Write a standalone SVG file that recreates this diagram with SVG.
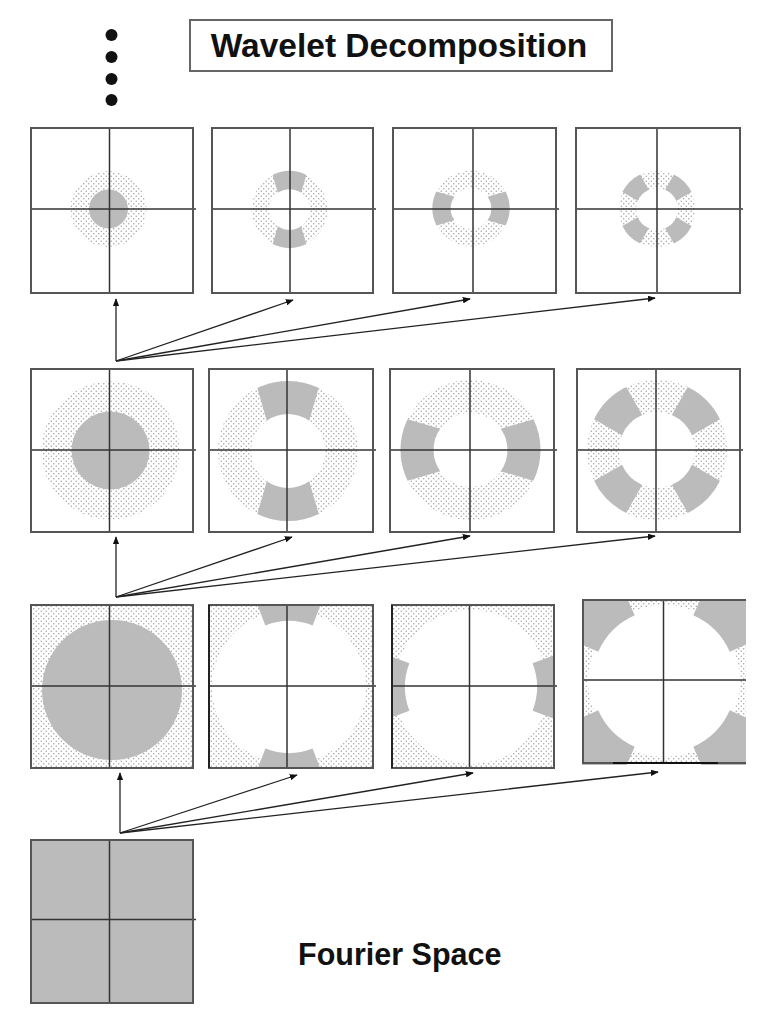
<svg xmlns="http://www.w3.org/2000/svg" xmlns:xlink="http://www.w3.org/1999/xlink" width="760" height="1020" viewBox="0 0 760 1020">
<style>
.frame{fill:none;stroke:#555;stroke-width:2}
.axis{stroke:#333;stroke-width:1.5}
.g{fill:#bbb}
.dot{fill:url(#dots)}
.w{fill:#fff}
.conn{stroke:#222;stroke-width:1.3;fill:none;marker-end:url(#ah)}
.t{font-family:"Liberation Sans",Arial,sans-serif;font-weight:bold;fill:#111}
</style>
<defs>
<pattern id="dots" width="5" height="5" patternUnits="userSpaceOnUse">
<rect width="5" height="5" fill="#fff"/>
<circle cx="1.25" cy="1.25" r="0.7" fill="#999"/>
<circle cx="3.75" cy="3.75" r="0.7" fill="#999"/>
</pattern>
<marker id="ah" viewBox="0 0 10 8" refX="9" refY="4" markerWidth="8" markerHeight="6.4" markerUnits="userSpaceOnUse" orient="auto">
<path d="M0,0 L10,4 L0,8 Z" fill="#111"/>
</marker>
<path id="wa" d="M62.92,-30.69 A70,70 0 0 1 62.92,30.69 L30.31,21.22 A37,37 0 0 0 30.31,-21.22 Z"/>
<path id="wd" d="M66.19,-22.79 A70,70 0 0 1 66.19,22.79 L35.23,14.24 A38,38 0 0 0 35.23,-14.24 Z"/>
<path id="wa3" d="M121.37,-46.59 A130,130 0 0 1 121.37,46.59 L61.62,23.65 A66,66 0 0 0 61.62,-23.65 Z"/>
<path id="wd3" d="M121.37,-46.59 A130,130 0 0 1 121.37,46.59 L67.22,25.80 A72,72 0 0 0 67.22,-25.80 Z"/>
<clipPath id="c32"><rect x="209" y="605" width="164" height="163"/></clipPath>
<clipPath id="c33"><rect x="392" y="605" width="162" height="163"/></clipPath>
<clipPath id="c34"><rect x="582" y="599" width="164" height="166"/></clipPath>
</defs>
<rect width="760" height="1020" fill="#fff"/>

<g id="dots-more">
<circle cx="111.5" cy="35" r="6" fill="#111"/>
<circle cx="111.5" cy="57" r="6" fill="#111"/>
<circle cx="111.5" cy="79" r="6" fill="#111"/>
<circle cx="111.5" cy="100" r="6" fill="#111"/>
</g>

<g id="title">
<rect x="190" y="20" width="422" height="51" fill="#fff" stroke="#666" stroke-width="2"/>
<text class="t" x="399" y="57" font-size="33.5" text-anchor="middle">Wavelet Decomposition</text>
</g>

<!-- Row 1 -->
<g id="b11">
<rect x="31" y="128" width="162" height="165" fill="#fff"/>
<circle cx="108.5" cy="209" r="38" class="dot"/>
<circle cx="108.5" cy="209" r="19.5" class="g"/>
<line class="axis" x1="109.5" y1="128" x2="109.5" y2="293"/>
<line class="axis" x1="31" y1="209" x2="196" y2="209"/>
<rect class="frame" x="31" y="128" width="162" height="165"/>
</g>
<g id="b12">
<rect x="212" y="128" width="161" height="165" fill="#fff"/>
<circle cx="289.5" cy="209.5" r="38" class="dot"/>
<circle cx="289.5" cy="209.5" r="20.4" class="w"/>
<use xlink:href="#wa" class="g" transform="translate(289.5,209.5) scale(0.55) rotate(-90)"/>
<use xlink:href="#wa" class="g" transform="translate(289.5,209.5) scale(0.55) rotate(90)"/>
<line class="axis" x1="290" y1="128" x2="290" y2="293"/>
<line class="axis" x1="212" y1="209" x2="376" y2="209"/>
<rect class="frame" x="212" y="128" width="161" height="165"/>
</g>
<g id="b13">
<rect x="393" y="128" width="163" height="165" fill="#fff"/>
<circle cx="471" cy="208.5" r="38" class="dot"/>
<circle cx="471" cy="208.5" r="20.4" class="w"/>
<use xlink:href="#wa" class="g" transform="translate(471,208.5) scale(0.55) rotate(0)"/>
<use xlink:href="#wa" class="g" transform="translate(471,208.5) scale(0.55) rotate(180)"/>
<line class="axis" x1="473" y1="128" x2="473" y2="293"/>
<line class="axis" x1="393" y1="209" x2="559" y2="209"/>
<rect class="frame" x="393" y="128" width="163" height="165"/>
</g>
<g id="b14">
<rect x="576" y="128" width="164" height="165" fill="#fff"/>
<circle cx="657" cy="209" r="38" class="dot"/>
<circle cx="657" cy="209" r="20.9" class="w"/>
<use xlink:href="#wd" class="g" transform="translate(657,209) scale(0.55) rotate(45)"/>
<use xlink:href="#wd" class="g" transform="translate(657,209) scale(0.55) rotate(135)"/>
<use xlink:href="#wd" class="g" transform="translate(657,209) scale(0.55) rotate(225)"/>
<use xlink:href="#wd" class="g" transform="translate(657,209) scale(0.55) rotate(315)"/>
<line class="axis" x1="657" y1="128" x2="657" y2="293"/>
<line class="axis" x1="576" y1="209" x2="743" y2="209"/>
<rect class="frame" x="576" y="128" width="164" height="165"/>
</g>

<!-- Row 2 -->
<g id="b21">
<rect x="31" y="369" width="162" height="163" fill="#fff"/>
<circle cx="110.5" cy="450.5" r="69" class="dot"/>
<circle cx="110.5" cy="450.5" r="39" class="g"/>
<line class="axis" x1="109.5" y1="369" x2="109.5" y2="532"/>
<line class="axis" x1="31" y1="450" x2="196" y2="450"/>
<rect class="frame" x="31" y="369" width="162" height="163"/>
</g>
<g id="b22">
<rect x="209" y="369" width="164" height="163" fill="#fff"/>
<circle cx="288" cy="451" r="70" class="dot"/>
<circle cx="288" cy="451" r="37" class="w"/>
<use xlink:href="#wa" class="g" transform="translate(288,451) rotate(-90)"/>
<use xlink:href="#wa" class="g" transform="translate(288,451) rotate(90)"/>
<line class="axis" x1="287" y1="369" x2="287" y2="532"/>
<line class="axis" x1="209" y1="450" x2="376" y2="450"/>
<rect class="frame" x="209" y="369" width="164" height="163"/>
</g>
<g id="b23">
<rect x="390" y="369" width="164" height="163" fill="#fff"/>
<circle cx="470.5" cy="450" r="70" class="dot"/>
<circle cx="470.5" cy="450" r="37" class="w"/>
<use xlink:href="#wa" class="g" transform="translate(470.5,450) rotate(0)"/>
<use xlink:href="#wa" class="g" transform="translate(470.5,450) rotate(180)"/>
<line class="axis" x1="470" y1="369" x2="470" y2="532"/>
<line class="axis" x1="390" y1="450" x2="557" y2="450"/>
<rect class="frame" x="390" y="369" width="164" height="163"/>
</g>
<g id="b24">
<rect x="577" y="369" width="163" height="163" fill="#fff"/>
<circle cx="657" cy="450" r="70" class="dot"/>
<circle cx="657" cy="450" r="38" class="w"/>
<use xlink:href="#wd" class="g" transform="translate(657,450) rotate(45)"/>
<use xlink:href="#wd" class="g" transform="translate(657,450) rotate(135)"/>
<use xlink:href="#wd" class="g" transform="translate(657,450) rotate(225)"/>
<use xlink:href="#wd" class="g" transform="translate(657,450) rotate(315)"/>
<line class="axis" x1="656" y1="369" x2="656" y2="532"/>
<line class="axis" x1="577" y1="450" x2="743" y2="450"/>
<rect class="frame" x="577" y="369" width="163" height="163"/>
</g>

<!-- Row 3 -->
<g id="b31">
<rect x="31" y="605" width="162" height="163" class="dot"/>
<circle cx="112" cy="690" r="70" class="g"/>
<line class="axis" x1="109.5" y1="605" x2="109.5" y2="768"/>
<line class="axis" x1="31" y1="686" x2="196" y2="686"/>
<rect class="frame" x="31" y="605" width="162" height="163"/>
</g>
<g id="b32">
<g clip-path="url(#c32)">
<rect x="209" y="605" width="164" height="163" class="dot"/>
<circle cx="289" cy="687" r="77" class="w"/>
<use xlink:href="#wa3" class="g" transform="translate(289,687) rotate(-90)"/>
<use xlink:href="#wa3" class="g" transform="translate(289,687) rotate(90)"/>
</g>
<line class="axis" x1="287" y1="605" x2="287" y2="768"/>
<line class="axis" x1="209" y1="686" x2="376" y2="686"/>
<rect class="frame" x="209" y="605" width="164" height="163"/>
<line x1="209" y1="605" x2="209" y2="768" stroke="#222" stroke-width="2"/>
</g>
<g id="b33">
<g clip-path="url(#c33)">
<rect x="392" y="605" width="162" height="163" class="dot"/>
<circle cx="471" cy="687" r="77" class="w"/>
<use xlink:href="#wa3" class="g" transform="translate(471,687) rotate(0)"/>
<use xlink:href="#wa3" class="g" transform="translate(471,687) rotate(180)"/>
</g>
<line class="axis" x1="469.5" y1="605" x2="469.5" y2="768"/>
<line class="axis" x1="392" y1="686" x2="557" y2="686"/>
<rect class="frame" x="392" y="605" width="162" height="163"/>
<line x1="392" y1="605" x2="392" y2="768" stroke="#222" stroke-width="2"/>
</g>
<g id="b34">
<g clip-path="url(#c34)">
<rect x="583" y="600" width="163" height="163" class="dot"/>
<circle cx="664" cy="681" r="76" class="w"/>
<use xlink:href="#wd3" class="g" transform="translate(664,681) rotate(45)"/>
<use xlink:href="#wd3" class="g" transform="translate(664,681) rotate(135)"/>
<use xlink:href="#wd3" class="g" transform="translate(664,681) rotate(225)"/>
<use xlink:href="#wd3" class="g" transform="translate(664,681) rotate(315)"/>
<line class="axis" x1="663.5" y1="600" x2="663.5" y2="763"/>
<line class="axis" x1="583" y1="680" x2="746" y2="680"/>
<path class="frame" d="M746,600 H583 V763 H746"/>
</g>
<line x1="613" y1="763" x2="718" y2="763" stroke="#111" stroke-width="1.8"/>
</g>

<!-- Row 4 -->
<g id="b41">
<rect x="31" y="840" width="162" height="163" class="g"/>
<line class="axis" x1="109.5" y1="840" x2="109.5" y2="1003"/>
<line class="axis" x1="31" y1="919.5" x2="196" y2="919.5"/>
<rect class="frame" x="31" y="840" width="162" height="163"/>
</g>

<g id="fourier-label">
<text class="t" x="298" y="965" font-size="30.5">Fourier Space</text>
</g>

<g id="connectors">
<line class="conn" x1="116" y1="361" x2="116" y2="299"/>
<line class="conn" x1="116" y1="361" x2="293" y2="300"/>
<line class="conn" x1="116" y1="361" x2="470" y2="299"/>
<line class="conn" x1="116" y1="361" x2="655" y2="298"/>
<line class="conn" x1="116" y1="597" x2="116" y2="537"/>
<line class="conn" x1="116" y1="597" x2="292" y2="537"/>
<line class="conn" x1="116" y1="597" x2="470" y2="536"/>
<line class="conn" x1="116" y1="597" x2="655" y2="536"/>
<line class="conn" x1="120" y1="833" x2="120" y2="773"/>
<line class="conn" x1="120" y1="833" x2="297" y2="775"/>
<line class="conn" x1="120" y1="833" x2="473" y2="773"/>
<line class="conn" x1="120" y1="833" x2="658" y2="772"/>
</g>
</svg>
